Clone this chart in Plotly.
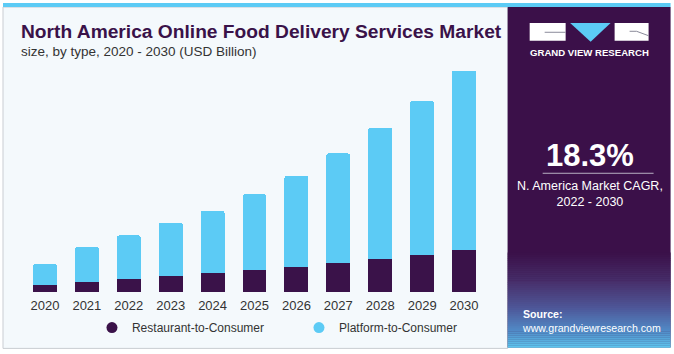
import plotly.graph_objects as go

years = ["2020", "2021", "2022", "2023", "2024", "2025", "2026", "2027", "2028", "2029", "2030"]
restaurant = [2.0, 3.0, 3.8, 4.6, 5.4, 6.3, 7.3, 8.4, 9.4, 10.7, 12.1]
platform = [6.0, 9.9, 12.5, 15.4, 17.9, 21.8, 26.2, 31.5, 37.9, 44.3, 51.7]
total_labels = {"2020": "$8.0B", "2021": "$12.9B"}

W, H = 674, 354
L, R, T, B = 24, 485.3, 49.4, 295

def px(x):
    return (x - L) / (R - L)

def py(y):
    return (B - y) / (B - T)

DARK = "#3A1249"
CYAN = "#5CCBF5"
PANEL = "#3B1049"

fig = go.Figure()
fig.add_trace(go.Bar(x=years, y=restaurant, name="Restaurant-to-Consumer",
                     marker=dict(color=DARK, line=dict(width=0)), showlegend=False))
fig.add_trace(go.Bar(x=years, y=platform, name="Platform-to-Consumer",
                     marker=dict(color=CYAN, line=dict(width=0)), showlegend=False))
fig.add_trace(go.Scatter(x=[None], y=[None], mode="markers", name="Restaurant-to-Consumer",
                         marker=dict(color=DARK, size=11, symbol="circle")))
fig.add_trace(go.Scatter(x=[None], y=[None], mode="markers", name="Platform-to-Consumer",
                         marker=dict(color=CYAN, size=11, symbol="circle")))

shapes = []
shapes.append(dict(type="rect", xref="paper", yref="paper", x0=px(3), x1=px(508), y0=py(352), y1=py(7),
                   fillcolor="#F4F9FC", line=dict(color="#C9CDD2", width=1), layer="below"))
shapes.append(dict(type="rect", xref="paper", yref="paper", x0=px(3), x1=px(671), y0=py(7), y1=py(3),
                   fillcolor="#5CCBF5", line=dict(width=0), layer="below"))
shapes.append(dict(type="rect", xref="paper", yref="paper", x0=px(508), x1=px(671), y0=py(351), y1=py(7),
                   fillcolor=PANEL, line=dict(width=0), layer="below"))
stops = [(255, (59, 16, 73)), (285, (72, 48, 108)), (310, (78, 85, 150)), (335, (82, 140, 200)), (351, (92, 200, 240))]
n = 48
y_start, y_end = 255, 351
for i in range(n):
    y0 = y_start + (y_end - y_start) * i / n
    y1 = y_start + (y_end - y_start) * (i + 1) / n
    ym = (y0 + y1) / 2
    for j in range(len(stops) - 1):
        if stops[j][0] <= ym <= stops[j + 1][0]:
            a, ca = stops[j]
            b, cb = stops[j + 1]
            t = (ym - a) / (b - a)
            c = tuple(int(ca[k] + (cb[k] - ca[k]) * t) for k in range(3))
            break
    shapes.append(dict(type="rect", xref="paper", yref="paper", x0=px(508), x1=px(671), y0=py(y1 + 0.3), y1=py(y0),
                       fillcolor="rgb(%d,%d,%d)" % c, line=dict(width=0), layer="below"))
# logo
shapes.append(dict(type="rect", xref="paper", yref="paper", x0=px(530), x1=px(566), y0=py(41), y1=py(23),
                   fillcolor="white", line=dict(width=0)))
shapes.append(dict(type="path", xref="paper", yref="paper",
                   path="M %f,%f L %f,%f L %f,%f Z" % (px(570.5), py(23), px(611), py(23), px(591), py(42)),
                   fillcolor=CYAN, line=dict(width=0)))
shapes.append(dict(type="rect", xref="paper", yref="paper", x0=px(615), x1=px(649), y0=py(41), y1=py(23),
                   fillcolor="white", line=dict(width=0)))
shapes.append(dict(type="line", xref="paper", yref="paper", x0=px(545), x1=px(566), y0=py(32.5), y1=py(32.5),
                   line=dict(color="#8A8A9A", width=1)))
shapes.append(dict(type="line", xref="paper", yref="paper", x0=px(630), x1=px(637), y0=py(31.5), y1=py(31.5),
                   line=dict(color="#8A8A9A", width=1)))
shapes.append(dict(type="line", xref="paper", yref="paper", x0=px(637), x1=px(649), y0=py(31.5), y1=py(36),
                   line=dict(color="#8A8A9A", width=1)))
shapes.append(dict(type="line", xref="paper", yref="paper", x0=px(543), x1=px(654), y0=py(175), y1=py(175),
                   line=dict(color="#B8B0C2", width=1)))

FONT = "Liberation Sans, Arial, sans-serif"
ann = []
ann.append(dict(text="<b>North America Online Food Delivery Services Market</b>", xref="paper", yref="paper",
                x=px(19), y=py(32), xanchor="left", yanchor="middle", showarrow=False,
                font=dict(family=FONT, size=19.2, color="#3A1249")))
ann.append(dict(text="size, by type, 2020 - 2030 (USD Billion)", xref="paper", yref="paper",
                x=px(19), y=py(52), xanchor="left", yanchor="middle", showarrow=False,
                font=dict(family=FONT, size=13.5, color="#333333")))
ann.append(dict(text="<b>GRAND VIEW RESEARCH</b>", xref="paper", yref="paper",
                x=px(589.5), y=py(53), xanchor="center", yanchor="middle", showarrow=False,
                font=dict(family=FONT, size=9.6, color="white")))
ann.append(dict(text="<b>18.3%</b>", xref="paper", yref="paper",
                x=px(590), y=py(157), xanchor="center", yanchor="middle", showarrow=False,
                font=dict(family=FONT, size=31, color="white")))
ann.append(dict(text="N. America Market CAGR,<br>2022 - 2030", xref="paper", yref="paper",
                x=px(590), y=py(196), xanchor="center", yanchor="middle", showarrow=False,
                font=dict(family=FONT, size=12.5, color="white")))
ann.append(dict(text="<b>Source:</b><br>www.grandviewresearch.com", xref="paper", yref="paper", align="left",
                x=px(520), y=py(324.5), xanchor="left", yanchor="middle", showarrow=False,
                font=dict(family=FONT, size=10.6, color="white")))
for i, yr in enumerate(years):
    if yr in total_labels:
        ann.append(dict(text=total_labels[yr], x=yr, y=restaurant[i] + platform[i], xref="x", yref="y",
                        yanchor="bottom", yshift=5, showarrow=False,
                        font=dict(family=FONT, size=13, color="#333333")))

fig.update_layout(
    width=W, height=H,
    margin=dict(l=L, r=W - R, t=T, b=H - B, pad=0),
    paper_bgcolor="white", plot_bgcolor="rgba(0,0,0,0)",
    barmode="stack", bargap=0.43, barcornerradius=2,
    shapes=shapes, annotations=ann,
    showlegend=True,
    legend=dict(orientation="h", x=px(92), y=py(331), xanchor="left", yanchor="middle", traceorder="normal",
                entrywidth=162, entrywidthmode="pixels",
                font=dict(family=FONT, size=12, color="#333333"), bgcolor="rgba(0,0,0,0)"),
    xaxis=dict(type="category", range=[-0.5, 10.5], showgrid=False, showline=False, zeroline=False,
               ticks="", ticklabelstandoff=4, tickfont=dict(family=FONT, size=13, color="#333333")),
    yaxis=dict(range=[0, 70], visible=False),
    font=dict(family=FONT),
)
fig.write_html("out.html")
